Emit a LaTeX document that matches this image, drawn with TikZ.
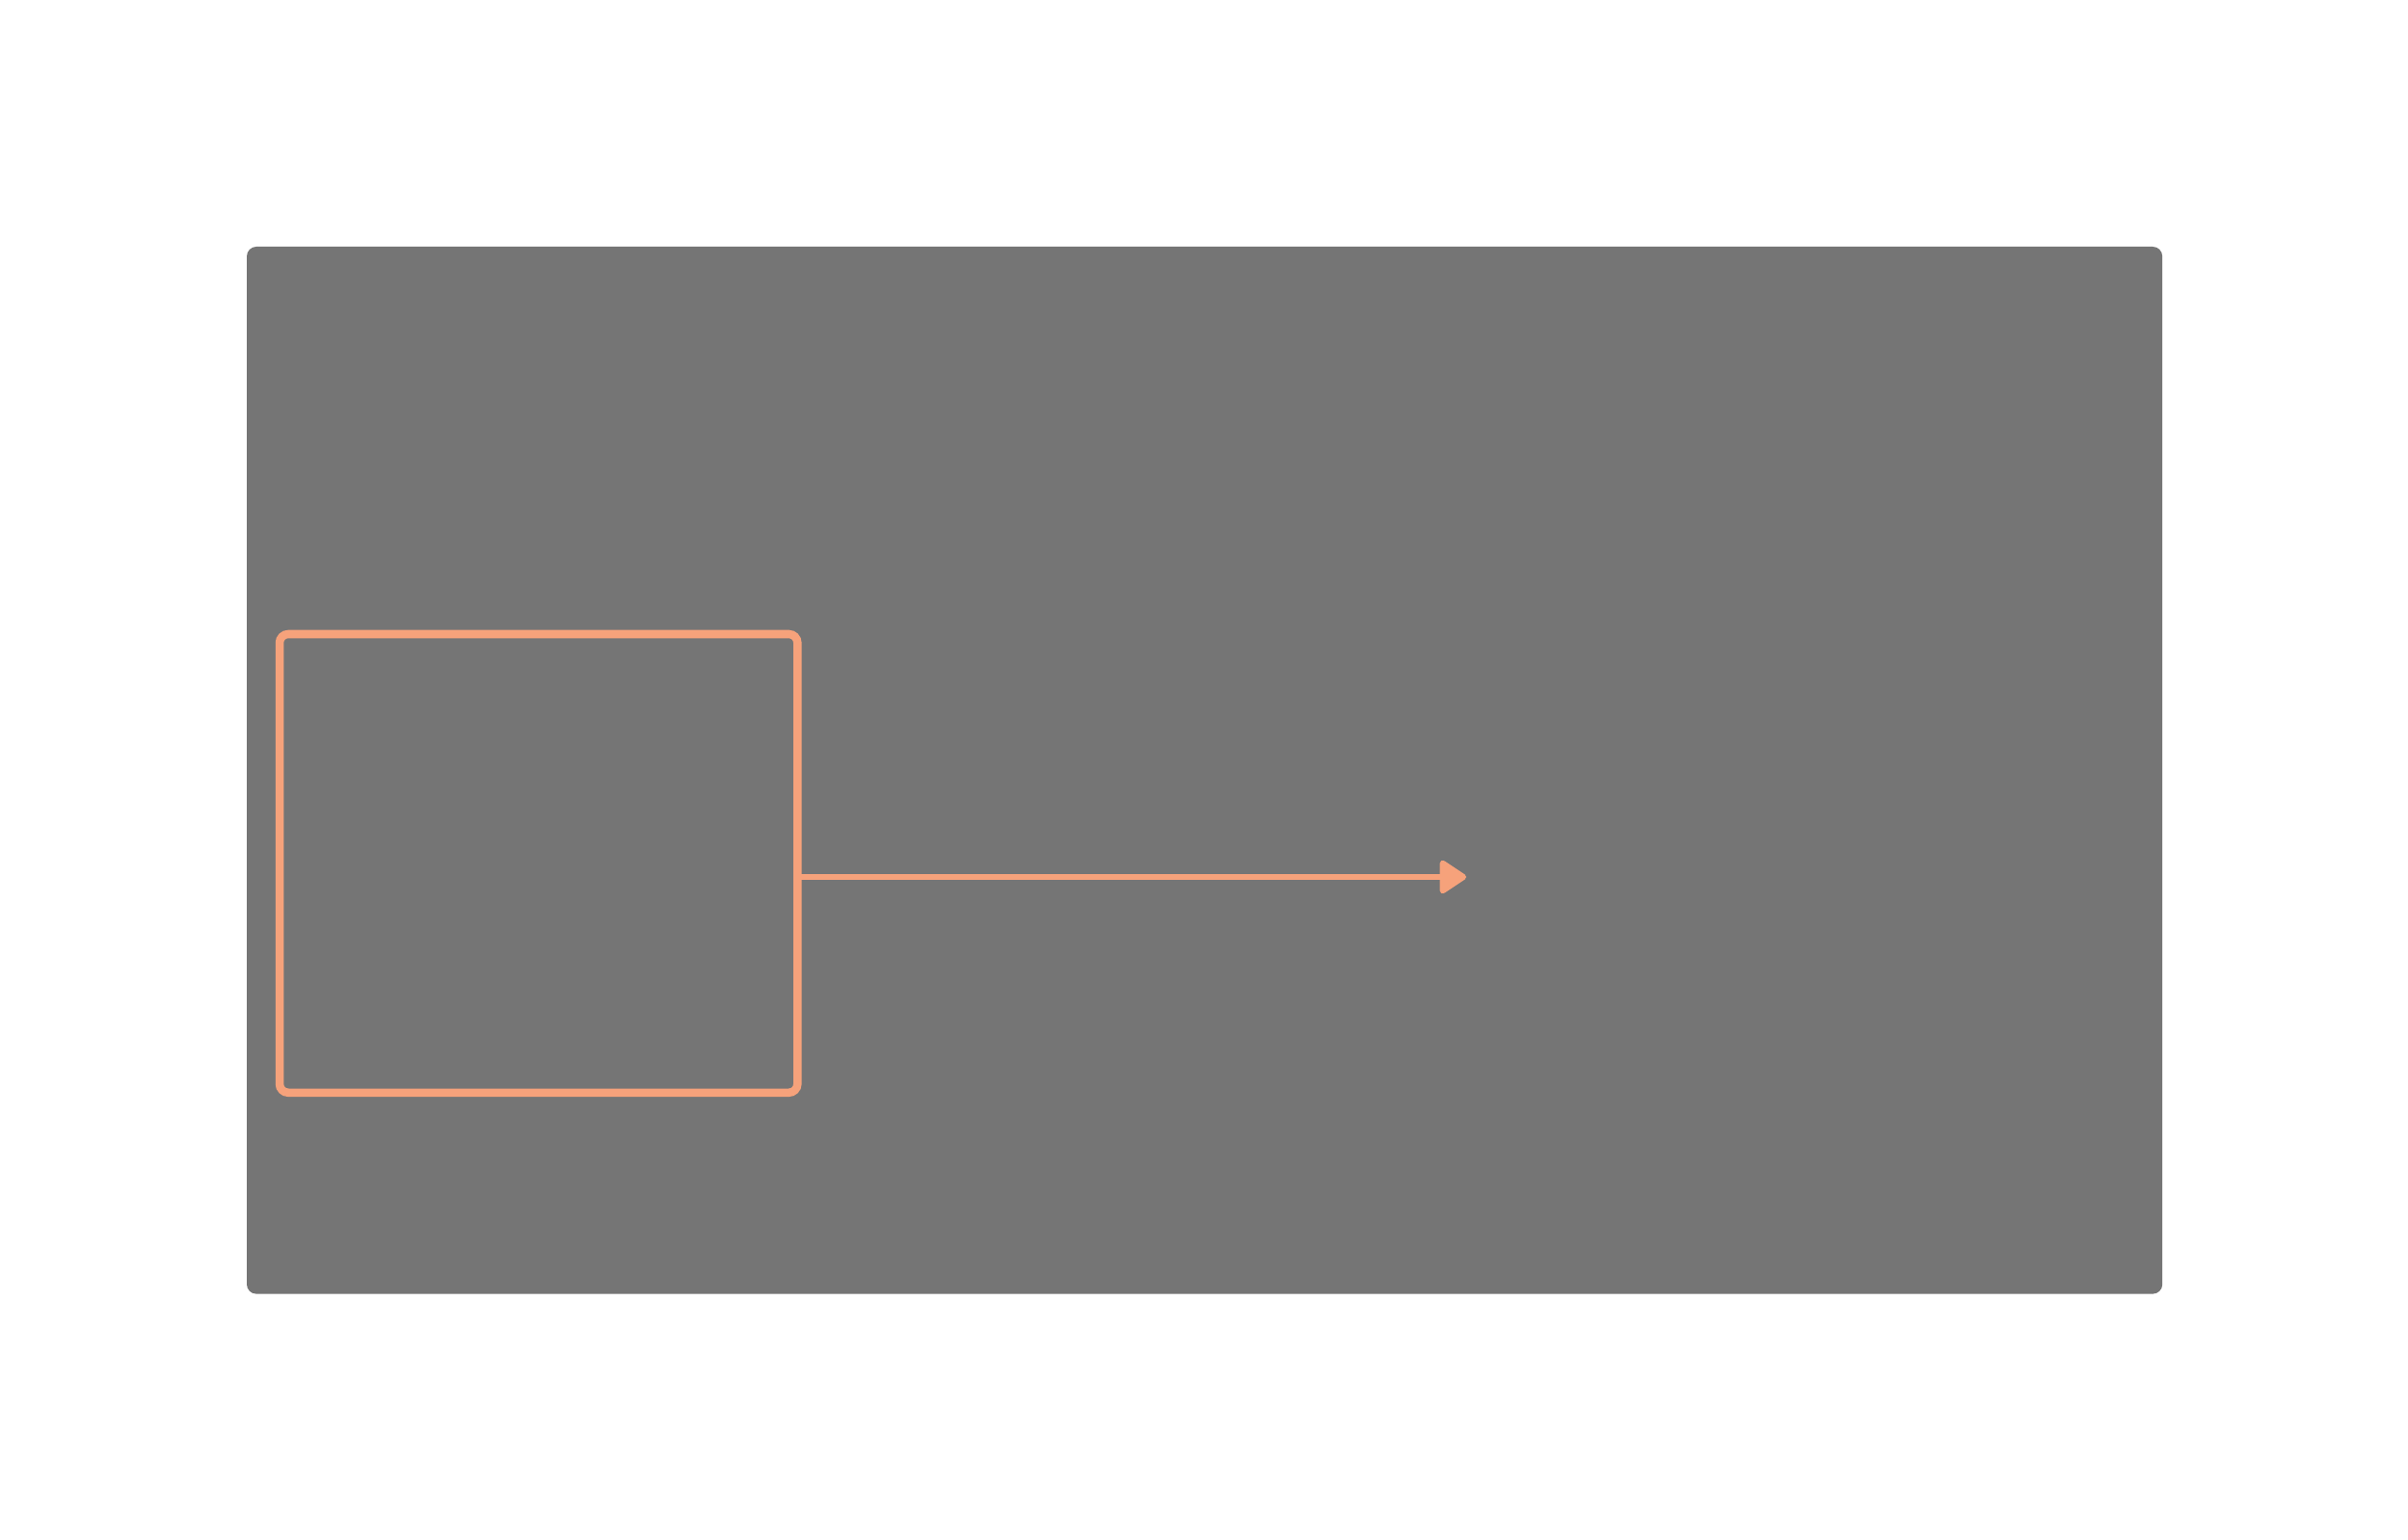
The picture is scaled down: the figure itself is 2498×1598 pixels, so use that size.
\documentclass[tikz,border=0pt]{standalone}
\usetikzlibrary{arrows.meta,calc}
\definecolor{panelgray}{HTML}{757575}
\definecolor{accent}{HTML}{F6A27B}
\tikzset{
  panel/.style={fill=panelgray, rounded corners=0.1cm, inner sep=0pt, outer sep=0pt, anchor=north west},
  framebox/.style={draw=accent, line width=0.085cm, rounded corners=0.09cm, inner sep=0pt, outer sep=0pt, anchor=north west},
  link/.style={draw=accent, line width=0.06cm, -{Triangle[length=0.3cm,width=0.38cm,round]}}
}
\begin{document}
\begin{tikzpicture}[x=0.01cm,y=-0.01cm]
\useasboundingbox[fill=white] (0,0) rectangle (2498,1598);
\node[panel, minimum width=19.86cm, minimum height=10.86cm] (panel) at (256,256) {};
\node[framebox, minimum width=5.37cm, minimum height=4.755cm] (box) at (290,658) {};
\coordinate (tip) at (1521,910);
\draw[link] (box.east |- tip) -- (tip);
\end{tikzpicture}
\end{document}
